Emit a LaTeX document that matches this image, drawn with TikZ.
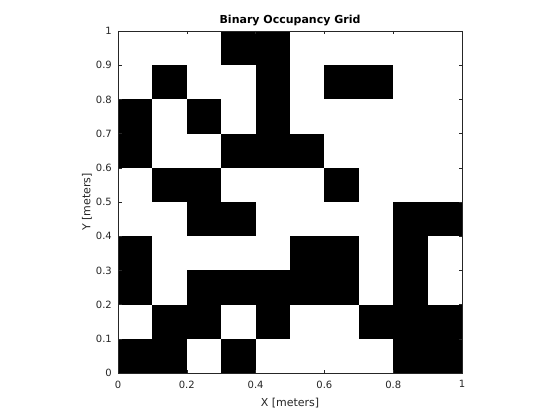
\documentclass[tikz,border=0pt]{standalone}
\usepackage{fontspec}
\setmainfont{DejaVu Sans}
\definecolor{axgray}{HTML}{262626}
\begin{document}
\begin{tikzpicture}[x=1pt,y=-1pt,
  cell/.style={fill=black,draw=none},
  ticklab/.style={text=axgray,font=\fontsize{10}{12}\selectfont,inner sep=0pt},
  axlab/.style={text=axgray,font=\fontsize{11}{13}\selectfont,inner sep=0pt},
  axline/.style={draw=axgray,line width=0.5pt}]
\useasboundingbox[fill=white] (0,0) rectangle (560,420);
\def\xa{118}\def\xb{462}\def\ya{373}\def\yb{31}
\pgfmathsetmacro{\cw}{(\xb-\xa)/10}
\pgfmathsetmacro{\ch}{(\ya-\yb)/10}
% occupied cells: row from bottom / list of columns
\foreach \r/\cols in {9/{3,4},8/{1,4,6,7},7/{0,2,4},6/{0,3,4,5},5/{1,2,6},4/{2,3,8,9},3/{0,5,6,8},2/{0,2,3,4,5,6,8},1/{1,2,4,7,8,9},0/{0,1,3,8,9}}{
  \foreach \c in \cols {
    \fill[cell] ({\xa+\c*\cw},{\ya-\r*\ch}) rectangle ({\xa+(\c+1)*\cw},{\ya-(\r+1)*\ch});
  }
}
\draw[axline] (\xa,\yb) rectangle (\xb,\ya);
% x ticks
\foreach \i/\lab in {0/0,2/0.2,4/0.4,6/0.6,8/0.8,10/1}{
  \draw[axline] ({\xa+\i*\cw},\ya) -- ++(0,-3.5);
  \draw[axline] ({\xa+\i*\cw},\yb) -- ++(0,3.5);
  \node[ticklab,anchor=north] (xt\i) at ({\xa+\i*\cw},380.5) {\lab};
}
% y ticks
\foreach \i/\lab in {0/0,1/0.1,2/0.2,3/0.3,4/0.4,5/0.5,6/0.6,7/0.7,8/0.8,9/0.9,10/1}{
  \draw[axline] (\xa,{\ya-\i*\ch}) -- ++(3.5,0);
  \draw[axline] (\xb,{\ya-\i*\ch}) -- ++(-3.5,0);
  \node[ticklab,anchor=east] (yt\i) at (112,{\ya-\i*\ch}) {\lab};
}
\node[axlab] (xl) at (290,403) {X [meters]};
\node[axlab,rotate=90] (yl) at (87,202) {Y [meters]};
\node[text=black,font=\fontsize{11}{13}\selectfont\bfseries,inner sep=0pt] (title) at (290,21) {Binary Occupancy Grid};
\end{tikzpicture}
\end{document}
